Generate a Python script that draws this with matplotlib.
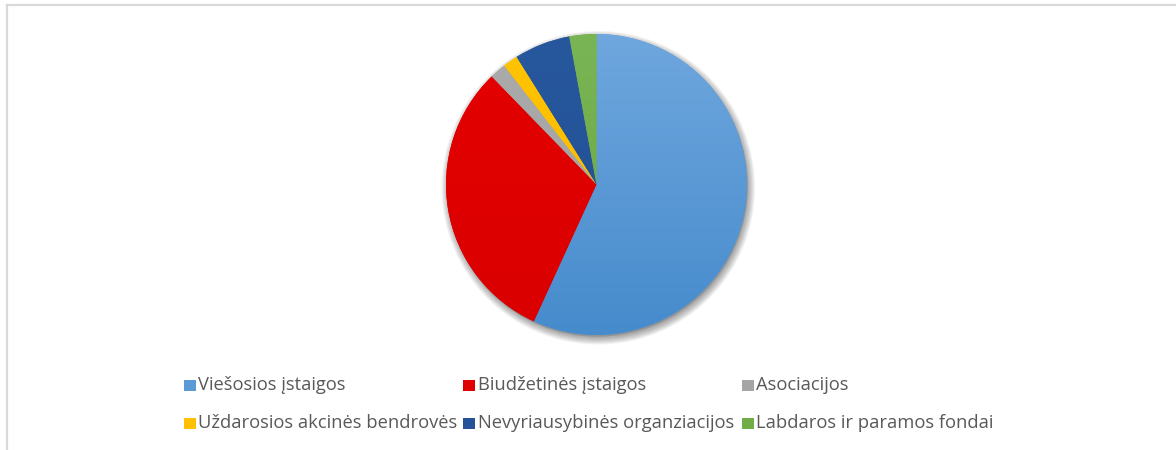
import numpy as np
import matplotlib
matplotlib.use("Agg")
import matplotlib.pyplot as plt
from matplotlib.patches import Rectangle, Circle
from matplotlib.colors import LinearSegmentedColormap
from matplotlib.lines import Line2D

labels = ["Viešosios įstaigos", "Biudžetinės įstaigos", "Asociacijos",
          "Uždarosios akcinės bendrovės", "Nevyriausybinės organziacijos",
          "Labdaros ir paramos fondai"]
values = [56.8, 30.9, 1.75, 1.6, 6.0, 2.9]
colors = ["#5B9BD5", "#DF0000", "#A5A5A5", "#FFC000", "#245399", "#70AD47"]
grad_top = ["#6FA7DE", "#E40000", "#ABABAB", "#FFC400", "#27579D", "#7AB555"]
grad_bot = ["#468BCC", "#DA0000", "#A0A0A0", "#FABA00", "#214F93", "#66A73E"]

W, H = 1176, 450
fig = plt.figure(figsize=(W / 100, H / 100), dpi=100)
fig.patch.set_facecolor("white")

# frame lines (top and left)
fig.add_artist(Line2D([7 / W, 1.0], [1 - 5 / H, 1 - 5 / H], transform=fig.transFigure,
                      color="#D9D9D9", lw=1.6))
fig.add_artist(Line2D([7 / W, 7 / W], [0, 1 - 5 / H], transform=fig.transFigure,
                      color="#D9D9D9", lw=1.6))

cx, cy, r = 596.5, 184.5, 150.5
pad = 1.08
ax = fig.add_axes([(cx - r * pad) / W, (H - cy - r * pad) / H, 2 * r * pad / W, 2 * r * pad / H])
ax.set_aspect("equal")
ax.axis("off")

# shadow
for k in range(8):
    ax.add_patch(Circle((0.012, -0.022), 1.0 + 0.006 * k, color="black",
                        alpha=0.045, lw=0, zorder=0))
ax.add_patch(Circle((0.006, -0.012), 1.0, color="#606060", alpha=0.35, lw=0, zorder=0.5))

wedges, _ = ax.pie(values, colors=colors, startangle=90, counterclock=False,
                   radius=1.0, wedgeprops=dict(linewidth=0))
for w in wedges:
    w.set_zorder(1)

yy = np.linspace(1, 0, 256).reshape(-1, 1)
for i, w in enumerate(wedges):
    cmap = LinearSegmentedColormap.from_list("g%d" % i, [grad_bot[i], grad_top[i]])
    im = ax.imshow(yy, cmap=cmap, extent=[-1, 1, -1, 1], origin="upper",
                   aspect="auto", zorder=2, interpolation="bilinear", vmin=0, vmax=1)
    im.set_clip_path(w)
ax.set_xlim(-pad, pad)
ax.set_ylim(-pad, pad)

# legend (manual grid)
font = "Open Sans"
for i, lab in enumerate(labels):
    col, row = i % 3, i // 3
    x0 = 184 + 279 * col
    yc = 385 + 38 * row
    fig.add_artist(Rectangle((x0 / W, 1 - (yc + 6) / H), 11.5 / W, 11.5 / H,
                             transform=fig.transFigure, facecolor=colors[i], lw=0))
    fig.text((x0 + 14.5) / W, 1 - yc / H, lab, fontsize=13.2, color="#595959",
             family=font, va="center", ha="left")

fig.savefig("out.png", dpi=100, facecolor="white")
